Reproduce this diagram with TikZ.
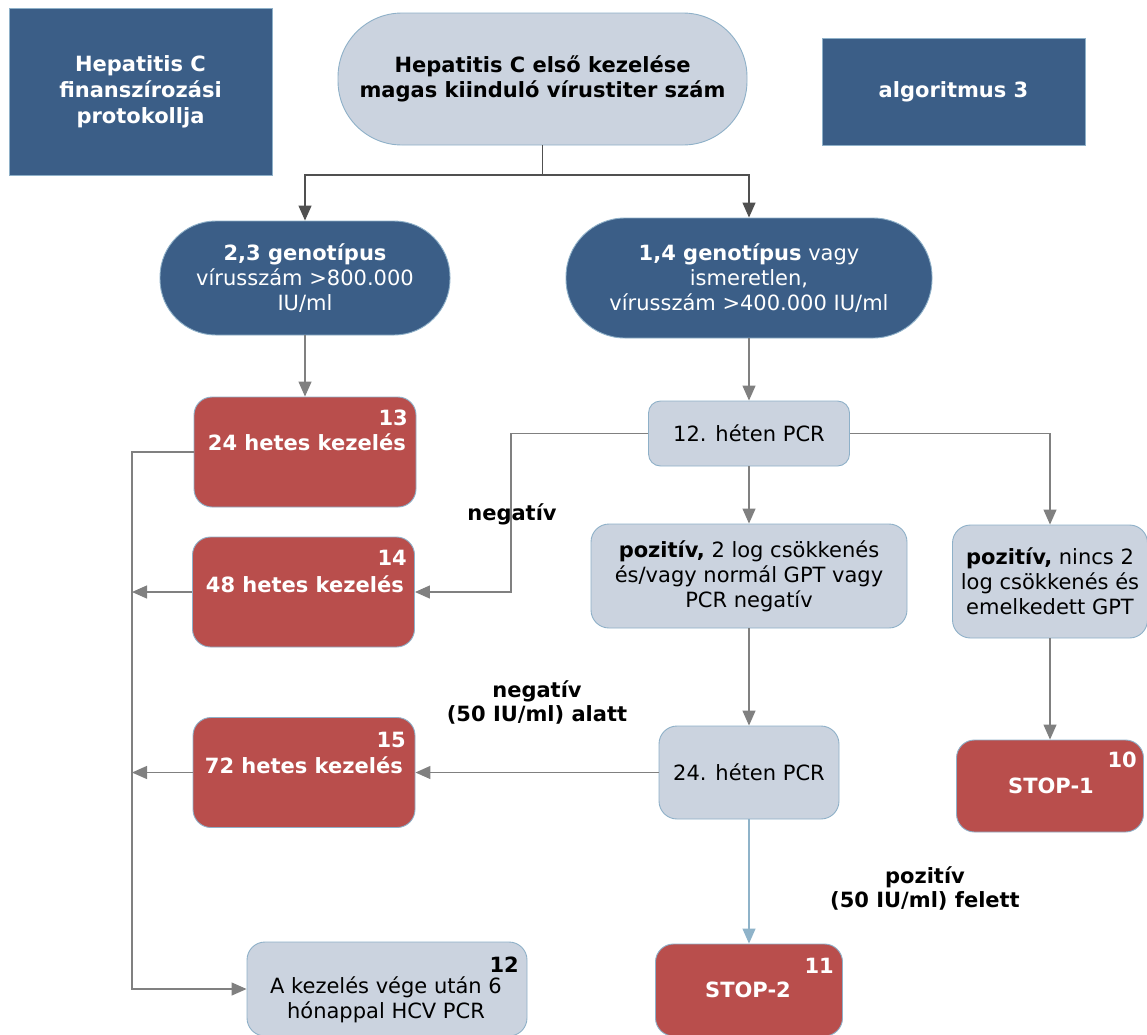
\documentclass[tikz,border=0pt]{standalone}
\usepackage{fontspec}
\setmainfont{DejaVu Sans}
\usetikzlibrary{arrows.meta}
\definecolor{navy}{HTML}{3B5E87}
\definecolor{brick}{HTML}{B94E4C}
\definecolor{pale}{HTML}{CBD3DF}
\definecolor{edge}{HTML}{8EB0C8}
\definecolor{linegray}{HTML}{808080}
\definecolor{darkline}{HTML}{505050}
\definecolor{bluelink}{HTML}{8FB3C9}
\begin{document}
\begin{tikzpicture}[x=1pt,y=-1pt,
  txt/.style={font=\fontsize{21}{25}\selectfont, align=center},
  base/.style={txt, draw=edge, line width=0.9pt, inner sep=0pt, rectangle},
  darkbox/.style={base, fill=navy, text=white, font=\fontsize{21}{26}\selectfont\bfseries},
  stadium/.style={base, fill=navy, text=white},
  lightbox/.style={base, fill=pale, text=black},
  redbox/.style={base, fill=brick, rounded corners=18pt, minimum width=222pt, minimum height=110pt},
  wnum/.style={font=\fontsize{21}{25}\selectfont\bfseries, text=white, inner sep=0pt, anchor=base east},
  lbl/.style={font=\fontsize{21}{24}\selectfont\bfseries, align=center, inner sep=0pt},
  tip/.style={-{Triangle[length=15pt,width=13pt]}},
  conn/.style={draw=linegray, line width=1.3pt},
  arr/.style={conn, tip},
  darr/.style={draw=darkline, line width=1.3pt, tip},
  barr/.style={draw=bluelink, line width=1.3pt, tip}
]
\useasboundingbox (0,0) rectangle (1147,1034);

% header boxes
\node[darkbox, minimum width=263pt, minimum height=167pt] (title) at (140.5,91.5)
  {Hepatitis C\\finanszírozási\\protokollja};
\node[darkbox, minimum width=263pt, minimum height=107pt] (algo) at (953.5,91.5)
  {algoritmus 3};
\node[lightbox, rounded corners=64pt, minimum width=409pt, minimum height=132pt,
  font=\fontsize{21}{25}\selectfont\bfseries] (start) at (542.5,79)
  {Hepatitis C első kezelése\\magas kiinduló vírustiter szám};

% genotype groups
\node[stadium, rounded corners=56pt, minimum width=290pt, minimum height=114pt] (g23) at (305,278)
  {\textbf{2,3 genotípus}\\vírusszám >800.000\\IU/ml};
\node[stadium, rounded corners=59pt, minimum width=366pt, minimum height=120pt] (g14) at (749,278)
  {\textbf{1,4 genotípus} vagy\\ismeretlen,\\vírusszám >400.000 IU/ml};

\coordinate (split) at (542.5,175);
\draw[darkline, line width=1.3pt] (start.south) -- (split);
\draw[darr] (split) -| (g23.north);
\draw[darr] (split) -| (g14.north);

% treatment boxes
\node[redbox] (b13) at (305,452) {};
\node[wnum] (n13) at (408,425) {13};
\node[wnum] (t13) at (406,450) {24 hetes kezelés};

\node[redbox] (b14) at (303.5,592) {};
\node[wnum] (n14) at (407,565) {14};
\node[wnum] (t14) at (404,592) {48 hetes kezelés};

\node[redbox] (b15) at (304,772.5) {};
\node[wnum] (n15) at (406,747) {15};
\node[wnum] (t15) at (403,773) {72 hetes kezelés};

\node[lightbox, rounded corners=18pt, minimum width=280pt, minimum height=94pt] (b12) at (387,989) {};
\node[wnum, text=black] (n12) at (519,972) {12};
\node[txt, inner sep=0pt] (t12) at (386,1000) {A kezelés vége után 6\\hónappal HCV PCR};

% PCR checks
\node[lightbox, rounded corners=12pt, minimum width=201pt, minimum height=65pt] (p12) at (749,433.5)
  {12. héten PCR};
\node[lightbox, rounded corners=18pt, minimum width=316pt, minimum height=104pt] (pos1) at (749,576)
  {\textbf{pozitív,} 2 log csökkenés\\és/vagy normál GPT vagy\\PCR negatív};
\node[lightbox, rounded corners=18pt, minimum width=195pt, minimum height=113pt] (pos2) at (1050,581.5)
  {\textbf{pozitív,} nincs 2\\log csökkenés és\\emelkedett GPT};
\node[lightbox, rounded corners=18pt, minimum width=180pt, minimum height=93pt] (p24) at (749,772.5)
  {24. héten PCR};

% stop boxes
\node[redbox, minimum width=187pt, minimum height=92pt] (stop1) at (1050,786) {};
\node[wnum] (n10) at (1137,767) {10};
\node[wnum, anchor=base] (t10) at (1051,793) {STOP-1};

\node[redbox, minimum width=187pt, minimum height=92pt] (stop2) at (749,990) {};
\node[wnum] (n11) at (834,973) {11};
\node[wnum, anchor=base] (t11) at (748,997) {STOP-2};

% flow
\draw[darr, draw=linegray] (g23.south) -- (b13.north);
\draw[arr] (g14.south) -- (p12.north);
\draw[arr] (p12.south) -- (pos1.north);
\draw[arr] (p12.east) -| (pos2.north);
\draw[arr] (p12.west) -- ++(-137,0) |- (b14.east);
\draw[arr] (pos1.south) -- (p24.north);
\draw[arr] (pos2.south) -- (stop1.north);
\draw[arr] (p24.west) -- (b15.east);
\draw[barr] (p24.south) -- (stop2.north);

% collecting rail on the left
\coordinate (rail) at (132,452);
\draw[arr] (b13.west) -- (rail) |- (b12.west);
\draw[arr] (b14.west) -- (b14.west -| rail);
\draw[arr] (b15.west) -- (b15.west -| rail);

% branch labels
\node[lbl] (lneg) at (512,514) {negatív};
\node[lbl] (lneg2) at (537,702) {negatív\\(50 IU/ml) alatt};
\node[lbl] (lpos) at (925,888) {pozitív\\(50 IU/ml) felett};
\end{tikzpicture}
\end{document}
